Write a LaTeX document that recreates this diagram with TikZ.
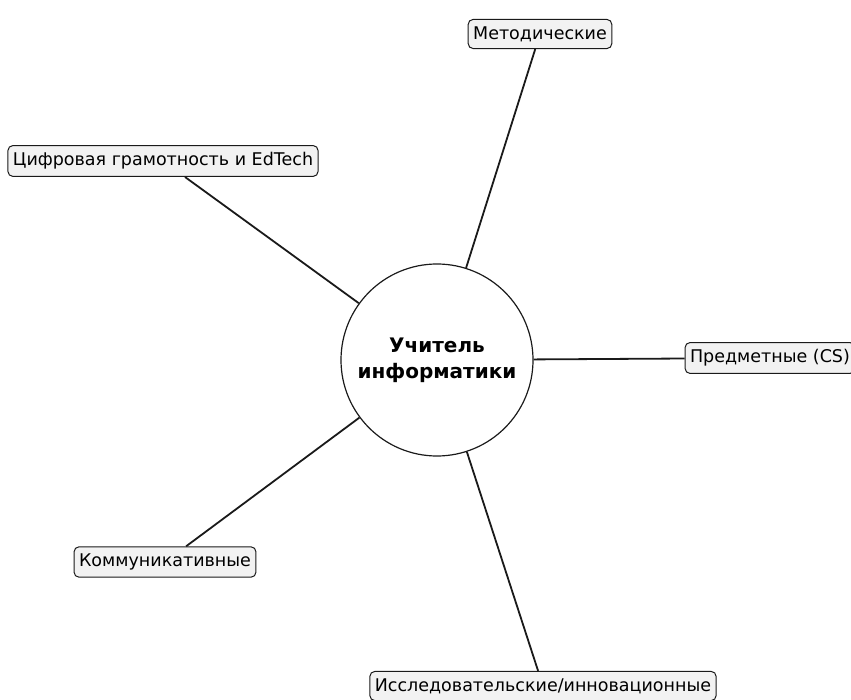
\documentclass[tikz,border=0pt]{standalone}
\usepackage{fontspec}
\setmainfont{DejaVu Sans}
\usepackage{tikz}
\usetikzlibrary{positioning, calc}
\definecolor{boxFill}{HTML}{F2F2F2}
\definecolor{lineDark}{HTML}{1A1A1A}

\tikzset{
  hub/.style={circle, draw=lineDark, line width=1.2pt, fill=white, minimum size=192pt, align=center, font=\fontsize{20}{26}\selectfont\bfseries},
  topic/.style={draw=lineDark, line width=1pt, rounded corners=5pt, fill=boxFill, inner xsep=5pt, inner ysep=7pt, font=\fontsize{17.5}{20}\selectfont},
  spoke/.style={line width=1.8pt, lineDark}
}

\begin{document}
\begin{tikzpicture}[x=1pt, y=-1pt]
  \useasboundingbox (0,0) rectangle (851,700);
  \node[hub] (teacher) at (437, 360) {Учитель\\информатики};
  \node[topic] (method) at (540, 34) {Методические};
  \node[topic] (digital) at (163, 161) {Цифровая грамотность и EdTech};
  \node[topic] (subject) at (770, 358) {Предметные (CS)};
  \node[topic] (commun) at (165, 562) {Коммуникативные};
  \node[topic] (research) at (543, 686) {Исследовательские/инновационные};
  \draw[spoke] (teacher) -- (method);
  \draw[spoke] (teacher) -- (digital);
  \draw[spoke] (teacher) -- (subject);
  \draw[spoke] (teacher) -- (commun);
  \draw[spoke] (teacher) -- (research);
\end{tikzpicture}
\end{document}
